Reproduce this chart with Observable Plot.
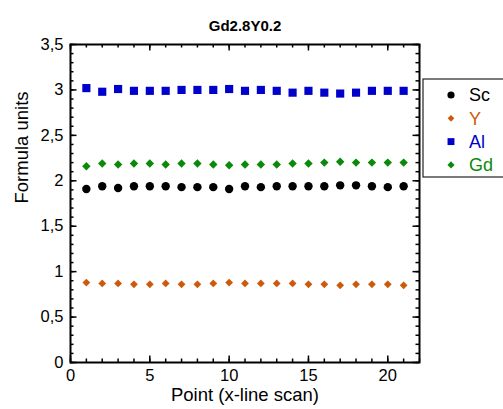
<!DOCTYPE html>
<html>
<head>
<meta charset="utf-8">
<script src="https://cdn.jsdelivr.net/npm/d3@7"></script>
<script src="https://cdn.jsdelivr.net/npm/@observablehq/plot@0.6"></script>
<style>
  html, body { margin: 0; padding: 0; background: #fff; }
  svg { font-family: "Liberation Sans", Arial, sans-serif; }
</style>
</head>
<body>
<div id="chart"></div>
<script>
const title = "Gd2.8Y0.2";
const xLabel = "Point (x-line scan)";
const yLabel = "Formula units";
const points = d3.range(1, 22);
const sc = [1.91, 1.94, 1.92, 1.94, 1.94, 1.94, 1.93, 1.93, 1.93, 1.91, 1.94, 1.93, 1.94, 1.94, 1.94, 1.94, 1.95, 1.95, 1.94, 1.93, 1.94];
const yv = [0.88, 0.87, 0.87, 0.86, 0.86, 0.87, 0.86, 0.86, 0.87, 0.88, 0.87, 0.87, 0.87, 0.87, 0.86, 0.86, 0.85, 0.86, 0.86, 0.86, 0.85];
const al = [3.02, 2.98, 3.01, 2.99, 2.99, 2.99, 3.00, 3.00, 3.00, 3.01, 2.99, 3.00, 2.99, 2.97, 2.99, 2.97, 2.96, 2.97, 2.99, 2.99, 2.99];
const gd = [2.16, 2.19, 2.18, 2.19, 2.19, 2.18, 2.19, 2.19, 2.18, 2.17, 2.18, 2.18, 2.18, 2.19, 2.19, 2.20, 2.21, 2.20, 2.20, 2.20, 2.20];
const seriesNames = ["Sc", "Y", "Al", "Gd"];
const seriesColors = ["#000000", "#cc5a0a", "#0000cc", "#0a8a0a"];
const seriesSymbols = ["circle", "diamond2", "square", "diamond2"];
const seriesR = [4.2, 3.5, 4.6, 3.8];
const xMajor = [0, 5, 10, 15, 20];
const xMinor = d3.range(0, 23);
const yMajor = [0, 0.5, 1, 1.5, 2, 2.5, 3, 3.5];
const yMinor = d3.range(0, 36).map(d => d / 10);

const series = [sc, yv, al, gd];
const data = [];
series.forEach((vals, si) => vals.forEach((v, i) => data.push({x: points[i], y: v, s: si})));

const W = 503, H = 409;
const mL = 70, mR = 84, mT = 44, mB = 47;
const fw = W - mL - mR, fh = H - mT - mB;
const fmt = d => String(d).replace(".", ",");

const marks = [
  Plot.frame({stroke: "black", strokeWidth: 2}),
  Plot.tickX(xMinor, {x: d => d, insetTop: fh - 3.5, stroke: "black", strokeWidth: 1.5}),
  Plot.tickX(xMajor, {x: d => d, insetTop: fh - 6.5, stroke: "black", strokeWidth: 1.5}),
  Plot.tickX(xMinor, {x: d => d, insetBottom: fh - 3.5, stroke: "black", strokeWidth: 1.5}),
  Plot.tickX(xMajor, {x: d => d, insetBottom: fh - 6.5, stroke: "black", strokeWidth: 1.5}),
  Plot.tickY(yMinor, {y: d => d, insetRight: fw - 3.5, stroke: "black", strokeWidth: 1.5}),
  Plot.tickY(yMajor, {y: d => d, insetRight: fw - 6.5, stroke: "black", strokeWidth: 1.5}),
  Plot.tickY(yMinor, {y: d => d, insetLeft: fw - 3.5, stroke: "black", strokeWidth: 1.5}),
  Plot.tickY(yMajor, {y: d => d, insetLeft: fw - 6.5, stroke: "black", strokeWidth: 1.5}),
  Plot.axisX({ticks: xMajor, tickSize: 0, tickPadding: 7, fontSize: 16.5, label: null, tickFormat: fmt}),
  Plot.axisY({ticks: yMajor, tickSize: 0, tickPadding: 7, fontSize: 16.5, label: null, tickFormat: fmt}),
];
seriesNames.forEach((name, si) => {
  marks.push(Plot.dot(data.filter(d => d.s === si), {
    x: "x", y: "y", symbol: seriesSymbols[si], r: seriesR[si],
    fill: seriesColors[si], stroke: "none"
  }));
});
marks.push(Plot.text([title], {frameAnchor: "top", dy: -24, fontSize: 15, fontWeight: "bold", fill: "black"}));
marks.push(Plot.text([xLabel], {frameAnchor: "bottom", dy: 38, fontSize: 18.5, fill: "black"}));
marks.push(Plot.text([yLabel], {frameAnchor: "left", dx: -48, rotate: -90, fontSize: 18.5, fill: "black"}));

const plot = Plot.plot({
  width: W, height: H,
  marginLeft: mL, marginRight: mR, marginTop: mT, marginBottom: mB,
  x: {domain: [0, 22]},
  y: {domain: [0, 3.5]},
  style: {fontFamily: "'Liberation Sans', Arial, sans-serif", color: "black", background: "white", overflow: "visible"},
  marks
});
document.getElementById("chart").appendChild(plot);

const svg = d3.select(plot);
const lg = svg.append("g").attr("class", "legend").attr("text-anchor", "start");
lg.append("rect").attr("x", 423).attr("y", 79).attr("width", 90).attr("height", 98)
  .attr("fill", "white").attr("stroke", "#222").attr("stroke-width", 1.2);
const legR = [3.6, 3.0, 3.9, 3.2];
const d3sym = {circle: d3.symbolCircle, square: d3.symbolSquare, diamond2: d3.symbolDiamond2};
seriesNames.forEach((name, i) => {
  const cy = 95 + i * 23.3;
  lg.append("path")
    .attr("d", d3.symbol(d3sym[seriesSymbols[i]], Math.PI * legR[i] * legR[i])())
    .attr("transform", `translate(451,${cy})`)
    .attr("fill", seriesColors[i]);
  lg.append("text").attr("x", 469).attr("y", cy).attr("dy", "0.36em")
    .attr("text-anchor", "start")
    .attr("font-size", 18).attr("fill", seriesColors[i]).text(name);
});
</script>
</body>
</html>
